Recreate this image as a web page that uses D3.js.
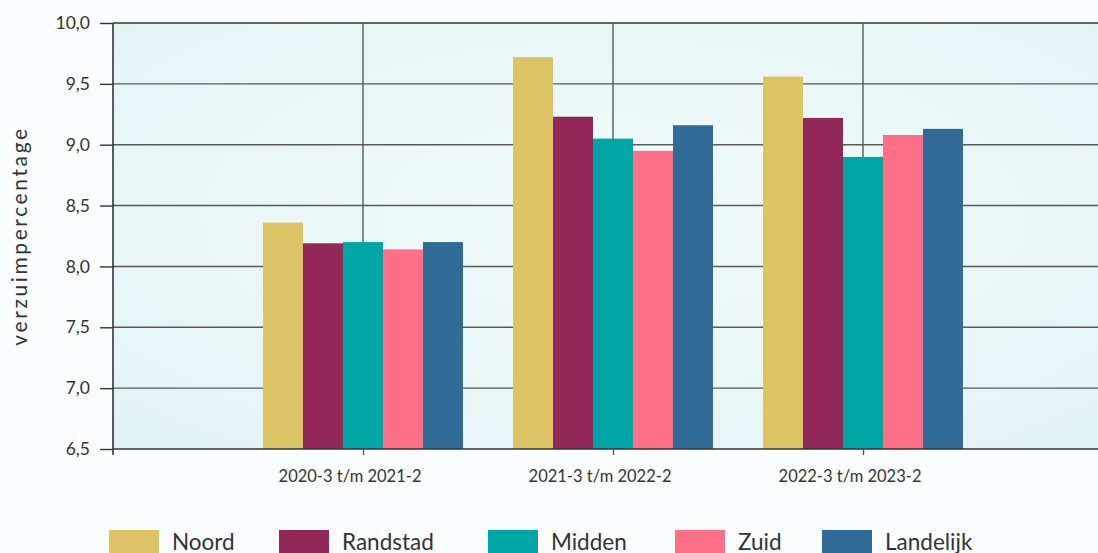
<!DOCTYPE html>
<html><head><meta charset="utf-8">
<script src="https://cdn.jsdelivr.net/npm/d3@7"></script>
<style>
html,body{margin:0;padding:0;background:#f9fdfd;}
svg{display:block;font-family:Lato, "Open Sans", sans-serif;}
</style></head>
<body>
<svg id="c" width="1098" height="553"></svg>
<script>
const categories = ["2020-3 t/m 2021-2", "2021-3 t/m 2022-2", "2022-3 t/m 2023-2"];
const series = ["Noord", "Randstad", "Midden", "Zuid", "Landelijk"];
const colors = ["#dcc466", "#922858", "#00a5a5", "#fe7088", "#316b97"];
const noord = [8.36, 9.72, 9.56];
const randstad = [8.19, 9.23, 9.22];
const midden = [8.20, 9.05, 8.90];
const zuid = [8.14, 8.95, 9.08];
const landelijk = [8.20, 9.16, 9.13];
const yTicks = [6.5, 7.0, 7.5, 8.0, 8.5, 9.0, 9.5, 10.0];
const values = [noord, randstad, midden, zuid, landelijk];

const svg = d3.select("#c");
const pLeft = 113, pTop = 23, pBottom = 449, pRight = 1113;

const defs = svg.append("defs");
const g = defs.append("radialGradient").attr("id","bg").attr("cx","50%").attr("cy","45%").attr("r","70%");
g.append("stop").attr("offset","0%").attr("stop-color","#f3fbfb");
g.append("stop").attr("offset","100%").attr("stop-color","#e2f3f3");

const x = d3.scalePoint().domain(["_s", ...categories, "_e"]).range([pLeft, pRight]);
const y = d3.scaleLinear().domain([6.5, 10]).range([pBottom, pTop]);
const xb = d3.scaleBand().domain(series).range([-100, 100]).padding(0);

svg.append("rect").attr("x", pLeft).attr("y", pTop).attr("width", pRight-pLeft).attr("height", pBottom-pTop).attr("fill","url(#bg)");

// horizontal gridlines
svg.append("g").selectAll("line").data(yTicks.slice(1)).join("line")
  .attr("x1", pLeft).attr("x2", pRight).attr("y1", d=>y(d)).attr("y2", d=>y(d))
  .attr("stroke", d => d===10 ? "#333" : "#5a5a5a").attr("stroke-width", d => d===10?1.6:1.4);
// vertical gridlines
svg.append("g").selectAll("line").data(categories).join("line")
  .attr("x1", d=>x(d)).attr("x2", d=>x(d)).attr("y1", pTop).attr("y2", pBottom)
  .attr("stroke", "#5a5a5a").attr("stroke-width", 1.4);

// bars
const gs = svg.append("g").selectAll("g").data(series).join("g").attr("fill",(d,i)=>colors[i]);
gs.selectAll("rect").data((s,i)=>categories.map((c,j)=>({c, s, v: values[i][j]}))).join("rect")
  .attr("x", d => x(d.c) + xb(d.s)).attr("width", xb.bandwidth())
  .attr("y", d => y(d.v)).attr("height", d => pBottom - y(d.v));

// y axis
const ya = svg.append("g").attr("transform", `translate(${pLeft},0)`)
  .call(d3.axisLeft(y).tickValues(yTicks).tickSize(13).tickPadding(10).tickFormat(d => d3.format(".1f")(d).replace(".", ",")));
ya.select(".domain").attr("stroke","#333").attr("stroke-width",1.6).attr("d", `M0,${pTop}V${pBottom+6}`);
ya.selectAll(".tick line").attr("stroke","#333").attr("stroke-width",1.4);
ya.selectAll(".tick text").attr("font-size",17.5).attr("fill","#333").attr("font-family","Lato, sans-serif");

// x axis
const xa = svg.append("g").attr("transform", `translate(0,${pBottom})`)
  .call(d3.axisBottom(x).tickValues(categories).tickSize(6).tickPadding(15));
xa.select(".domain").attr("stroke","#333").attr("stroke-width",1.6).attr("d", `M${pLeft},0H${pRight}`);
xa.selectAll(".tick line").attr("stroke","#555").attr("stroke-width",1.4);
xa.selectAll(".tick text").attr("font-size",16.5).attr("fill","#333").attr("dx",-13.5).attr("font-family","Lato, sans-serif");

// y title
svg.append("text").attr("transform","translate(27,236) rotate(-90)").attr("text-anchor","middle")
  .attr("font-size",21).attr("letter-spacing",2.6).attr("fill","#333").text("verzuimpercentage");

// legend
const legX = [109, 279, 488, 675, 822];
const lg = svg.append("g").selectAll("g").data(series).join("g").attr("transform",(d,i)=>`translate(${legX[i]},530)`);
lg.append("rect").attr("width",50).attr("height",25).attr("fill",(d,i)=>colors[i]);
lg.append("text").attr("x",63).attr("y",19.5).attr("font-size",22.5).attr("fill","#333").text(d=>d);
</script>
</body></html>
